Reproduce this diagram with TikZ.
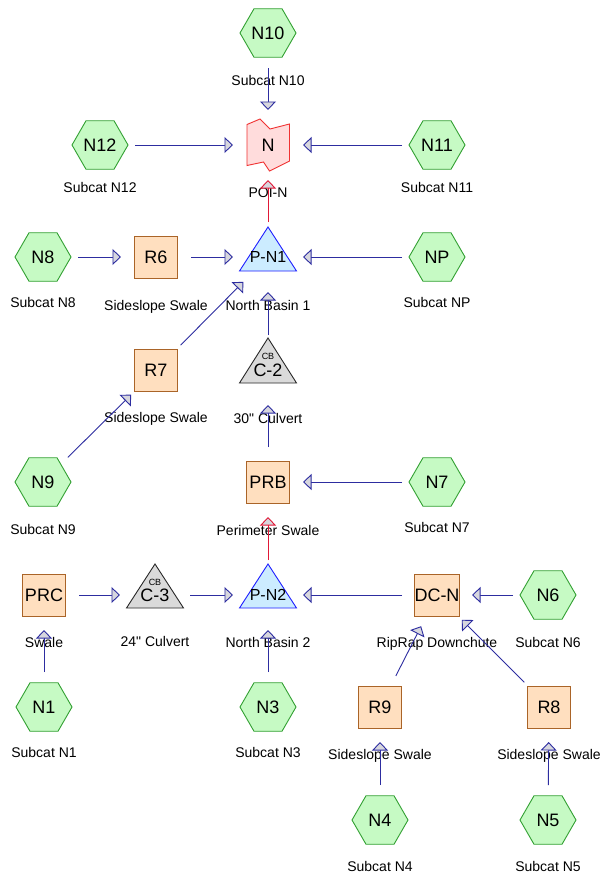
\documentclass[tikz,border=0pt]{standalone}
\usepackage{fontspec}
\setmainfont{Liberation Sans}[Ligatures=TeXOff]
\usetikzlibrary{shapes.geometric,arrows.meta,backgrounds,calc}
\definecolor{hexfill}{RGB}{198,250,196}
\definecolor{hexline}{RGB}{50,160,50}
\definecolor{boxfill}{RGB}{255,223,191}
\definecolor{boxline}{RGB}{170,100,40}
\definecolor{pfill}{RGB}{204,236,255}
\definecolor{pline}{RGB}{30,30,255}
\definecolor{cfill}{RGB}{218,218,218}
\definecolor{cline}{RGB}{40,40,40}
\definecolor{nfill}{RGB}{255,220,220}
\definecolor{nline}{RGB}{240,50,50}
\definecolor{flowc}{RGB}{45,45,160}
\definecolor{redc}{RGB}{225,25,55}
\definecolor{tipfill}{RGB}{215,215,222}
\begin{document}
\begin{tikzpicture}[x=1pt,y=-1pt,
 hexa/.style={regular polygon,regular polygon sides=6,minimum size=56pt,inner sep=0pt,draw=hexline,fill=hexfill,line width=0.9pt,font=\fontsize{18}{18}\selectfont,text height=12.9pt,text depth=0pt},
 boxn/.style={rectangle,minimum width=43pt,minimum height=42pt,inner sep=0pt,draw=boxline,fill=boxfill,line width=0.9pt,font=\fontsize{18}{18}\selectfont,text height=12.9pt,text depth=0pt},
 pnode/.style={inner sep=0pt,font=\fontsize{16}{16}\selectfont,text height=11.5pt,text depth=0pt},
 cnode/.style={inner sep=0pt,font=\fontsize{18}{18}\selectfont,text height=12.9pt,text depth=0pt},
 cbt/.style={inner sep=0pt,font=\fontsize{9}{9}\selectfont,text height=6.5pt,text depth=0pt},
 nnode/.style={inner sep=0pt,minimum width=43pt,minimum height=53pt,font=\fontsize{18}{18}\selectfont,text height=12.9pt,text depth=0pt},
 lbl/.style={inner sep=0pt,font=\fontsize{14}{14}\selectfont,text height=10pt,text depth=0pt},
 flow/.style={draw=flowc,line width=0.9pt,-{Triangle[length=8.5pt,width=16pt,fill=tipfill]},shorten <=35pt,shorten >=35pt},
 rflow/.style={flow,draw=redc},
 ptri/.style={draw=pline,fill=pfill,line width=0.9pt},
 ctri/.style={draw=cline,fill=cfill,line width=0.9pt},
 nshape/.style={draw=nline,fill=nfill,line width=0.9pt},
]
\useasboundingbox (0,0) rectangle (611,878);

% nodes
\node[hexa] (n10) at (268,33) {N10};
\node[nnode] (n) at (268,145) {N};
\node[hexa] (n12) at (100,145) {N12};
\node[hexa] (n11) at (437,145) {N11};

\node[hexa] (n8) at (43,257) {N8};
\node[boxn] (r6) at (156,257) {R6};
\node[pnode] (pn1) at (268,257) {P-N1};
\node[hexa] (np) at (437,257) {NP};

\node[boxn] (r7) at (156,370) {R7};
\node[cnode] (c2) at (268,370) {C-2};
\node[cbt] (c2cb) at (268,356) {CB};

\node[hexa] (n9) at (43,482) {N9};
\node[boxn] (prb) at (268,482) {PRB};
\node[hexa] (n7) at (437,482) {N7};

\node[boxn] (prc) at (44,595) {PRC};
\node[cnode] (c3) at (155,595) {C-3};
\node[cbt] (c3cb) at (155,582) {CB};
\node[pnode] (pn2) at (268,595) {P-N2};
\node[boxn] (dcn) at (437,595) {DC-N};
\node[hexa] (n6) at (548,595) {N6};

\node[hexa] (n1) at (44,707) {N1};
\node[hexa] (n3) at (268,707) {N3};
\node[boxn] (r9) at (380,707) {R9};
\node[boxn] (r8) at (549,707) {R8};

\node[hexa] (n4) at (380,820) {N4};
\node[hexa] (n5) at (548,820) {N5};

% shapes behind the texts
\begin{scope}[on background layer]
\fill[white] (0,0) rectangle (611,878);
\draw[nshape] ($(n)+(-21,-20.5)$) -- ($(n)+(-8,-26)$) -- ($(n)+(2,-16)$) -- ($(n)+(21.5,-21)$)
  -- ($(n)+(21.5,16)$) -- ($(n)+(1.5,26)$) -- ($(n)+(-4.5,17)$) -- ($(n)+(-21,20.5)$) -- cycle;
\draw[ptri] ($(pn1)+(0,-30)$) -- ($(pn1)+(28.5,14)$) -- ($(pn1)+(-28.5,14)$) -- cycle;
\draw[ptri] ($(pn2)+(0,-31)$) -- ($(pn2)+(28.5,13)$) -- ($(pn2)+(-28.5,13)$) -- cycle;
\draw[ctri] ($(c2)+(0,-32)$) -- ($(c2)+(28.5,13)$) -- ($(c2)+(-28.5,13)$) -- cycle;
\draw[ctri] ($(c3)+(0,-31)$) -- ($(c3)+(28.5,13)$) -- ($(c3)+(-28.5,13)$) -- cycle;
\end{scope}

% labels
\node[lbl] (ln10) at (268,80) {Subcat N10};
\node[lbl] (ln) at (268,192) {POI-N};
\node[lbl] (ln12) at (100,187) {Subcat N12};
\node[lbl] (ln11) at (437,187) {Subcat N11};
\node[lbl] (ln8) at (43,302) {Subcat N8};
\node[lbl] (lr6) at (156,305) {Sideslope Swale};
\node[lbl] (lpn1) at (268,305) {North Basin 1};
\node[lbl] (lnp) at (437,302) {Subcat NP};
\node[lbl] (lr7) at (156,417) {Sideslope Swale};
\node[lbl] (lc2) at (268,418) {30" Culvert};
\node[lbl] (ln9) at (43,529) {Subcat N9};
\node[lbl] (lprb) at (268,530) {Perimeter Swale};
\node[lbl] (ln7) at (437,527) {Subcat N7};
\node[lbl] (lprc) at (44,642) {Swale};
\node[lbl] (lc3) at (155,641) {24" Culvert};
\node[lbl] (lpn2) at (268,642) {North Basin 2};
\node[lbl] (ldcn) at (437,642) {RipRap Downchute};
\node[lbl] (ln6) at (548,642) {Subcat N6};
\node[lbl] (ln1) at (44,752) {Subcat N1};
\node[lbl] (ln3) at (268,752) {Subcat N3};
\node[lbl] (lr9) at (380,754) {Sideslope Swale};
\node[lbl] (lr8) at (549,754) {Sideslope Swale};
\node[lbl] (ln4) at (380,866) {Subcat N4};
\node[lbl] (ln5) at (548,866) {Subcat N5};

% connectors
\draw[flow] (n10.center) -- (n.center);
\draw[flow] (n12.center) -- (n.center);
\draw[flow] (n11.center) -- (n.center);
\draw[rflow] (pn1.center) -- (n.center);
\draw[flow] (n8.center) -- (r6.center);
\draw[flow] (r6.center) -- (pn1.center);
\draw[flow] (np.center) -- (pn1.center);
\draw[flow] (r7.center) -- (pn1.center);
\draw[flow] (c2.center) -- (pn1.center);
\draw[flow] (n9.center) -- (r7.center);
\draw[flow] (prb.center) -- (c2.center);
\draw[flow] (n7.center) -- (prb.center);
\draw[rflow] (pn2.center) -- (prb.center);
\draw[flow] (prc.center) -- (c3.center);
\draw[flow] (c3.center) -- (pn2.center);
\draw[flow] (dcn.center) -- (pn2.center);
\draw[flow] (n6.center) -- (dcn.center);
\draw[flow] (n1.center) -- (prc.center);
\draw[flow] (n3.center) -- (pn2.center);
\draw[flow] (r9.center) -- (dcn.center);
\draw[flow] (r8.center) -- (dcn.center);
\draw[flow] (n4.center) -- (r9.center);
\draw[flow] (n5.center) -- (r8.center);
\end{tikzpicture}
\end{document}
